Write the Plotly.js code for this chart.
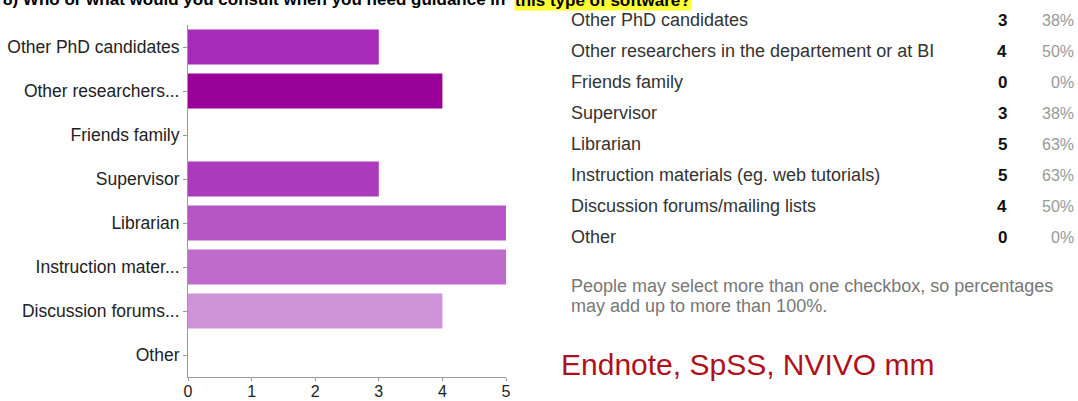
<!DOCTYPE html>
<html>
<head>
<meta charset="utf-8">
<script src="https://cdn.plot.ly/plotly-3.0.1.min.js"></script>
<style>html,body{margin:0;padding:0;background:#fff;}#chart{width:1078px;height:401px;}</style>
</head>
<body>
<div id="chart"></div>
<script>
// ---- data ----
const categories = ["Other PhD candidates","Other researchers in the departement or at BI","Friends family","Supervisor","Librarian","Instruction materials (eg. web tutorials)","Discussion forums/mailing lists","Other"];
const axisLabels = ["Other PhD candidates","Other researchers...","Friends family","Supervisor","Librarian","Instruction mater...","Discussion forums...","Other"];
const counts = [3,4,0,3,5,5,4,0];
const percents = ["38%","50%","0%","38%","63%","63%","50%","0%"];
const barColors = ["#a82ab8","#990099","#a23ab5","#aa3bbb","#b656c5","#bf6bcc","#cf93da","#dcb0e3"];
const titleMain = "8) Who or what would you consult when you need guidance in";
const titleHighlight = "this type of software?";
const footnoteLines = ["People may select more than one checkbox, so percentages", "may add up to more than 100%."];
const handNote = "Endnote, SpSS, NVIVO mm";

// ---- layout helpers (pixel -> paper) ----
const W = 1078, H = 401;
const L = 188, R = 506, T = 25, B = 377;
const px = x => (x - L) / (R - L);
const py = y => (B - y) / (B - T);
const FONT = "Liberation Sans, Arial";

const trace = {
  type: "bar",
  orientation: "h",
  x: counts,
  y: categories,
  marker: {color: barColors, line: {width: 0}},
  hoverinfo: "x+y"
};

const annotations = [];
annotations.push({xref:"paper", yref:"paper", x:px(1), y:py(11), xanchor:"left", yanchor:"bottom",
  text:"<b>"+titleMain+"</b>", showarrow:false, font:{family:FONT, size:17, color:"#000"}});
annotations.push({xref:"paper", yref:"paper", x:px(514), y:py(11), xanchor:"left", yanchor:"bottom",
  text:"<b>"+titleHighlight+"</b>", showarrow:false, bgcolor:"#ffff33", borderpad:0,
  font:{family:FONT, size:17, color:"#000"}});

const rowY0 = 20, rowStep = 31;
categories.forEach((c, i) => {
  const y = rowY0 + i * rowStep;
  annotations.push({xref:"paper", yref:"paper", x:px(569), y:py(y), xanchor:"left", yanchor:"middle",
    text:c, showarrow:false, font:{family:FONT, size:18, color:"#333"}});
  annotations.push({xref:"paper", yref:"paper", x:px(1009), y:py(y), xanchor:"right", yanchor:"middle",
    text:"<b>"+counts[i]+"</b>", showarrow:false, font:{family:FONT, size:17, color:"#111"}});
  annotations.push({xref:"paper", yref:"paper", x:px(1076), y:py(y), xanchor:"right", yanchor:"middle",
    text:percents[i], showarrow:false, font:{family:FONT, size:16, color:"#999"}});
});
footnoteLines.forEach((t, i) => {
  annotations.push({xref:"paper", yref:"paper", x:px(569), y:py(286 + i * 20), xanchor:"left", yanchor:"middle",
    text:t, showarrow:false, font:{family:FONT, size:18, color:"#777"}});
});
annotations.push({xref:"paper", yref:"paper", x:px(559), y:py(364), xanchor:"left", yanchor:"middle",
  text:handNote, showarrow:false, font:{family:FONT, size:30, color:"#b0101a"}});

const layout = {
  width: W, height: H,
  margin: {l: L, r: W - R, t: T, b: H - B, pad: 0},
  paper_bgcolor: "#fff", plot_bgcolor: "#fff",
  showlegend: false,
  bargap: 0.2,
  font: {family: FONT, size: 17, color: "#222"},
  xaxis: {range: [0, 5], dtick: 1, tick0: 0, showgrid: false, zeroline: false,
    showline: true, linecolor: "#999", linewidth: 1,
    ticks: "outside", ticklen: 3, tickcolor: "#999", ticklabelstandoff: -3,
    tickfont: {size: 16, color: "#222"}, fixedrange: true},
  yaxis: {type: "category", categoryorder: "array", categoryarray: categories,
    range: [categories.length - 0.5, -0.5], showgrid: false, zeroline: false,
    showline: true, linecolor: "#999", linewidth: 1,
    ticks: "outside", ticklen: 4, tickcolor: "#999",
    tickvals: categories, ticktext: axisLabels,
    tickfont: {size: 17.5, color: "#222"}, fixedrange: true},
  annotations: annotations
};

Plotly.newPlot("chart", [trace], layout, {displayModeBar: false, staticPlot: true});
</script>
</body>
</html>
